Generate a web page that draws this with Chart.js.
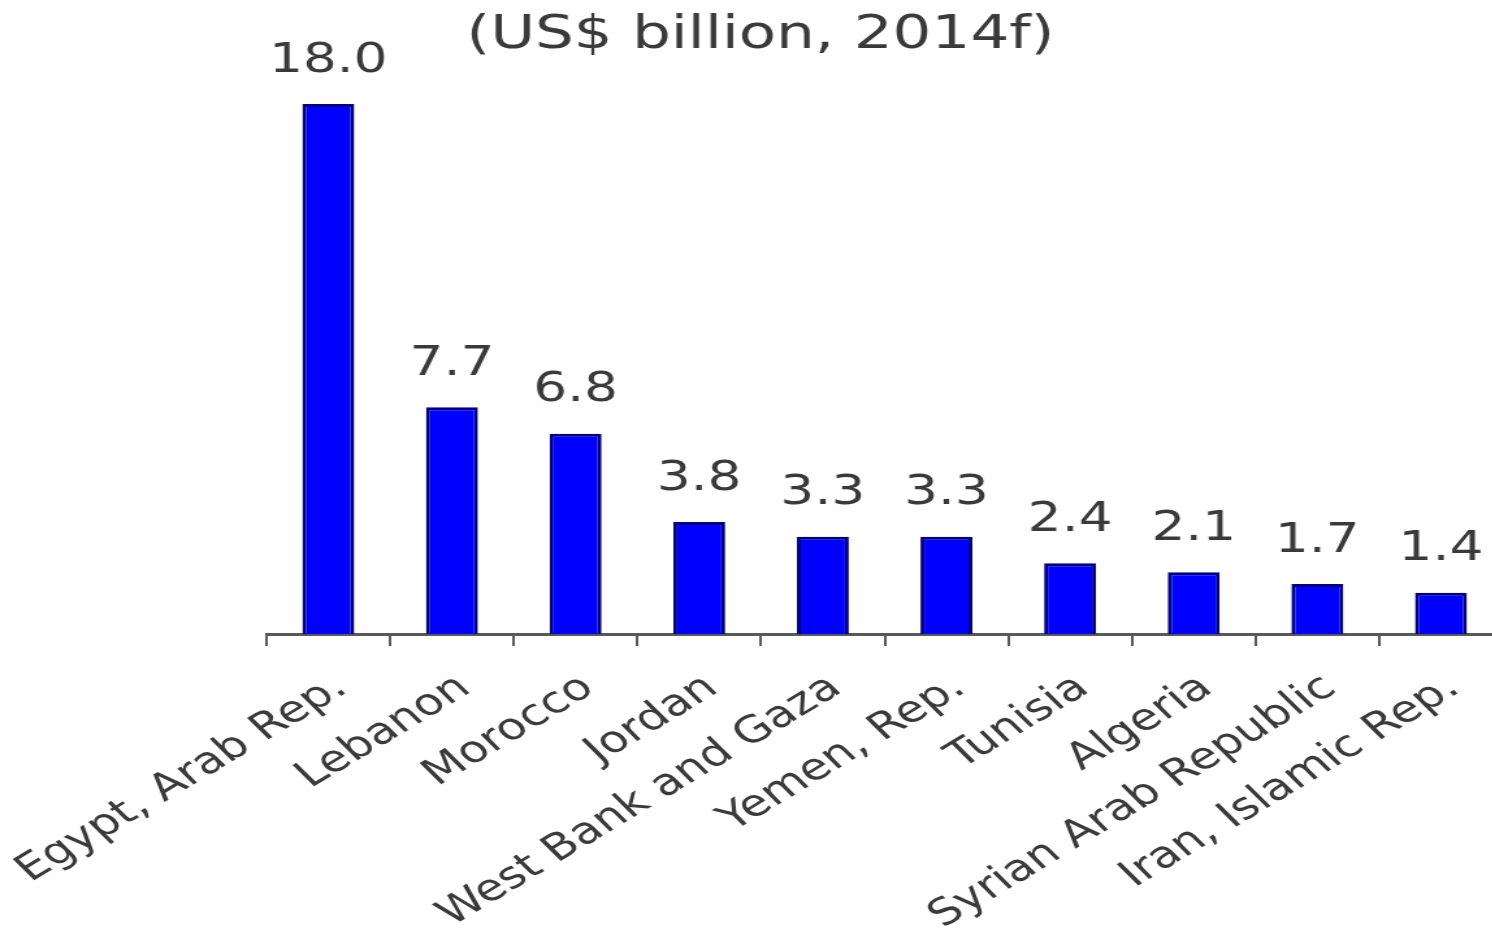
<!DOCTYPE html>
<html><head><meta charset="utf-8">
<script src="https://cdn.jsdelivr.net/npm/chart.js@4.4.1/dist/chart.umd.min.js"></script>
<style>
html,body{margin:0;padding:0;background:#fff;overflow:hidden;width:1492px;height:930px}
canvas{display:block;position:absolute;left:0;top:0}
</style></head><body>
<canvas id="c" width="1160" height="930" style="width:1508px;height:930px"></canvas>
<script>
const categories = ["Egypt, Arab Rep.", "Lebanon", "Morocco", "Jordan", "West Bank and Gaza", "Yemen, Rep.", "Tunisia", "Algeria", "Syrian Arab Republic", "Iran, Islamic Rep."];
const values = [18.0, 7.7, 6.8, 3.8, 3.3, 3.3, 2.4, 2.1, 1.7, 1.4];
const valueLabels = ["18.0", "7.7", "6.8", "3.8", "3.3", "3.3", "2.4", "2.1", "1.7", "1.4"];
const titleText = "(US$ billion, 2014f)";

const textColor = '#3a3a3a';
const fontFamily = "'DejaVu Sans', sans-serif";

const valueLabelPlugin = {
  id: 'valueLabels',
  afterDatasetsDraw(chart) {
    const ctx = chart.ctx;
    const meta = chart.getDatasetMeta(0);
    ctx.save();
    ctx.fillStyle = textColor;
    ctx.font = '41px ' + fontFamily;
    ctx.textAlign = 'center';
    ctx.textBaseline = 'middle';
    meta.data.forEach((el, i) => {
      ctx.fillText(valueLabels[i], el.x, el.y - 43);
    });
    ctx.restore();
  }
};

const titlePlugin = {
  id: 'topTitle',
  afterDraw(chart) {
    const ctx = chart.ctx;
    ctx.save();
    ctx.fillStyle = textColor;
    ctx.font = '47px ' + fontFamily;
    ctx.textAlign = 'center';
    ctx.textBaseline = 'middle';
    ctx.fillText(titleText, 585, 36);
    ctx.restore();
  }
};

new Chart(document.getElementById('c'), {
  type: 'bar',
  data: {
    labels: categories,
    datasets: [{
      data: values,
      backgroundColor: '#0000ff',
      borderColor: '#000080',
      borderWidth: 3,
      barPercentage: 0.42,
      categoryPercentage: 1
    }]
  },
  options: {
    responsive: false,
    devicePixelRatio: 1,
    animation: false,
    layout: { padding: { left: 205, right: 4, top: 104, bottom: 0 } },
    plugins: { legend: { display: false }, tooltip: { enabled: false }, title: { display: false } },
    scales: {
      y: { display: false, min: 0, max: 18 },
      x: {
        grid: { display: true, drawOnChartArea: false, drawTicks: true, tickLength: 12, color: '#595959', lineWidth: 2 },
        border: { display: true, color: '#595959', width: 3 },
        ticks: {
          autoSkip: false, minRotation: 38, maxRotation: 38,
          color: textColor,
          font: { family: fontFamily, size: 37 },
          padding: 20,
          labelOffset: 10
        },
        afterFit(scale) {
          scale.height = 296;
          scale.paddingLeft = 0;
          scale.paddingRight = 0;
        }
      }
    }
  },
  plugins: [valueLabelPlugin, titlePlugin]
});
</script>
</body></html>
